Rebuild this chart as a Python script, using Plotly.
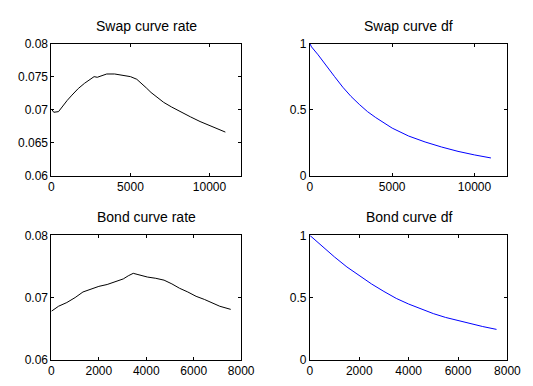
import plotly.graph_objects as go

# ---- data ----
swap_t = [0, 150, 450, 700, 1000, 1300, 1700, 2100, 2400, 2700, 2900, 3200, 3500, 4000,
          4500, 5000, 5400, 5700, 6000, 6300, 6600, 7100, 7600, 8200, 8800, 9400, 10000, 10600, 11000]
swap_rate = [0.0701, 0.0696, 0.0697, 0.0705, 0.0714, 0.0722, 0.0732, 0.0740, 0.0745, 0.0750,
             0.0749, 0.0752, 0.0754, 0.0754, 0.0752, 0.0750, 0.0746, 0.0740, 0.0733, 0.0726,
             0.0720, 0.0711, 0.0704, 0.0696, 0.0689, 0.0682, 0.0676, 0.0670, 0.0666]

swap_df_t = [0, 100, 500, 1000, 1500, 2000, 2500, 3000, 3500, 4000, 5000, 6000, 7000, 8000,
             9000, 10000, 11000]
swap_df = [1.0, 0.975, 0.915, 0.83, 0.75, 0.67, 0.60, 0.54, 0.485, 0.44, 0.36, 0.30, 0.255,
           0.217, 0.184, 0.157, 0.134]

bond_t = [0, 300, 650, 1000, 1330, 1670, 2000, 2350, 2700, 3030, 3240, 3450, 3650, 4050,
          4400, 4750, 5080, 5400, 5750, 6100, 6450, 6800, 7100, 7560]
bond_rate = [0.0678, 0.0686, 0.0692, 0.0700, 0.0709, 0.0714, 0.0718, 0.0721, 0.0725, 0.0730,
             0.0735, 0.0739, 0.0737, 0.0733, 0.0731, 0.0728, 0.0722, 0.0715, 0.0709, 0.0702,
             0.0697, 0.0691, 0.0686, 0.0681]

bond_df_t = [0, 500, 1000, 1500, 2000, 2500, 3000, 3500, 4000, 4500, 5000, 5500, 6000, 6500,
             7000, 7560]
bond_df = [1.0, 0.910, 0.826, 0.746, 0.675, 0.609, 0.549, 0.493, 0.448, 0.407, 0.371, 0.340,
           0.315, 0.289, 0.267, 0.244]

titles = ["Swap curve rate", "Swap curve df", "Bond curve rate", "Bond curve df"]

W, H = 533, 386
# plot boxes in pixels: (left, right, top, bottom)
boxes = [(50, 246, 38, 175), (317, 521, 38, 175), (50, 246, 237, 366), (317, 521, 237, 366)]

FONT = "Liberation Sans, Arial, sans-serif"

fig = go.Figure()
series = [(swap_t, swap_rate, "black"), (swap_df_t, swap_df, "blue"),
          (bond_t, bond_rate, "black"), (bond_df_t, bond_df, "blue")]
for i, (x, y, c) in enumerate(series):
    n = "" if i == 0 else str(i + 1)
    fig.add_trace(go.Scatter(x=x, y=y, mode="lines", line=dict(color=c, width=1),
                             xaxis="x" + n, yaxis="y" + n, showlegend=False))

xranges = [[0, 12000], [0, 12000], [0, 8000], [0, 8000]]
xticks = [[0, 5000, 10000], [0, 5000, 10000], [0, 2000, 4000, 6000, 8000], [0, 2000, 4000, 6000, 8000]]
yranges = [[0.06, 0.08], [0, 1], [0.06, 0.08], [0, 1]]
yticks = [[0.06, 0.065, 0.07, 0.075, 0.08], [0, 0.5, 1], [0.06, 0.07, 0.08], [0, 0.5, 1]]
ytext = [["0.06", "0.065", "0.07", "0.075", "0.08"], ["0", "0.5", "1"],
         ["0.06", "0.07", "0.08"], ["0", "0.5", "1"]]

axcommon = dict(showline=True, linecolor="black", linewidth=1, mirror="ticks",
                ticks="inside", ticklen=3, tickcolor="black", showgrid=False,
                zeroline=False, tickfont=dict(family=FONT, size=12, color="black"))

layout = dict(width=W, height=H, margin=dict(l=0, r=0, t=0, b=0),
              paper_bgcolor="white", plot_bgcolor="white", showlegend=False)
annotations = []
for i, (l, r, t, b) in enumerate(boxes):
    n = "" if i == 0 else str(i + 1)
    xd = [l / W, r / W]
    yd = [1 - b / H, 1 - t / H]
    layout["xaxis" + n] = dict(domain=xd, range=xranges[i], tickvals=xticks[i],
                               ticktext=[str(v) for v in xticks[i]],
                               anchor="y" + n, **axcommon)
    layout["yaxis" + n] = dict(domain=yd, range=yranges[i], tickvals=yticks[i],
                               ticktext=ytext[i], anchor="x" + n, **axcommon)
    annotations.append(dict(text=titles[i], xref="paper", yref="paper",
                            x=(xd[0] + xd[1]) / 2, y=yd[1], xanchor="center",
                            yanchor="bottom", yshift=8, showarrow=False,
                            font=dict(family=FONT, size=14, color="black")))
layout["annotations"] = annotations
fig.update_layout(**layout)
fig.write_html("out.html")
